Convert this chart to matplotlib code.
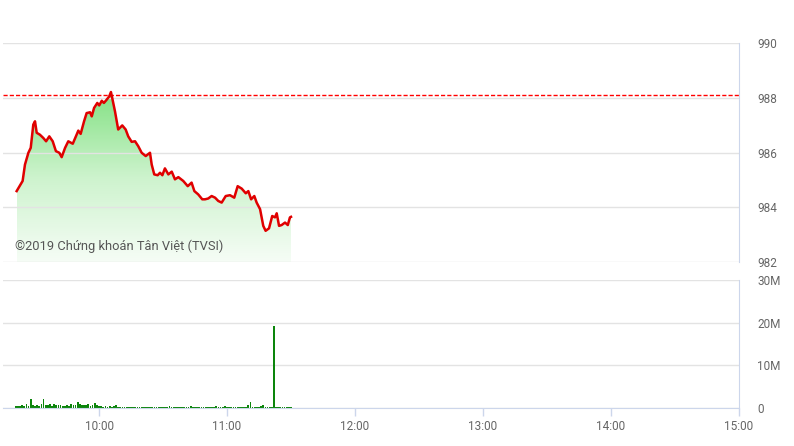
import numpy as np
import matplotlib
matplotlib.use("Agg")
import matplotlib.pyplot as plt
from matplotlib.colors import LinearSegmentedColormap
from matplotlib.ticker import FuncFormatter

plt.rcParams["font.family"] = ["Roboto", "DejaVu Sans"]

# minutes after 09:00 and index level
price_minutes = [21.4, 24.2, 25.3, 26.9, 28.0, 29.2, 30.0, 30.8, 32.3, 33.9,
                 35.2, 36.7, 38.3, 39.8, 41.4, 42.5, 44.1, 45.6, 47.7, 49.5,
                 50.3, 51.4, 53.0, 54.2, 55.8, 56.6, 57.7, 59.2, 60.1, 61.3,
                 62.3, 63.6, 64.8, 65.6, 66.2, 67.5, 69.0, 70.9, 72.5, 73.7,
                 75.3, 76.9, 78.4, 80.0, 81.9, 83.9, 84.7, 85.9, 87.5, 88.6,
                 89.7, 90.9, 92.5, 94.1, 95.6, 97.2, 99.5, 101.6, 103.4, 104.7,
                 106.5, 108.4, 109.7, 111.2, 112.8, 114.4, 115.9, 117.5, 119.4, 121.4,
                 123.4, 125.0, 126.9, 128.8, 130.0, 131.3, 132.8, 133.9, 135.5, 137.0,
                 138.1, 139.7, 141.2, 142.5, 143.3, 144.4, 145.6, 147.2, 148.5, 149.5,
                 150.0]
price = [984.59, 984.96, 985.56, 985.99, 986.17, 987.02, 987.14, 986.72, 986.65, 986.53,
         986.41, 986.59, 986.41, 986.05, 985.99, 985.83, 986.17, 986.41, 986.32, 986.65,
         986.80, 986.68, 987.14, 987.44, 987.47, 987.32, 987.63, 987.81, 987.72, 987.89,
         987.81, 987.93, 988.05, 988.21, 987.99, 987.50, 986.84, 986.99, 986.84, 986.59,
         986.39, 986.41, 986.23, 985.99, 985.87, 985.99, 985.56, 985.20, 985.17, 985.26,
         985.17, 985.42, 985.20, 985.30, 985.02, 985.10, 984.96, 984.77, 984.90, 984.59,
         984.47, 984.29, 984.29, 984.32, 984.41, 984.35, 984.23, 984.17, 984.41, 984.44,
         984.35, 984.77, 984.68, 984.51, 984.59, 984.29, 984.41, 984.17, 983.93, 983.32,
         983.14, 983.23, 983.68, 983.63, 983.78, 983.32, 983.35, 983.44, 983.35, 983.63,
         983.65]
ref_price = 988.1

# volume per minute from 09:21 to 11:30, millions
volume_start = 21
volume = [0.4, 0.5, 0.4, 0.6, 0.5, 0.9, 0.4, 2.0, 0.6, 0.5,
          0.7, 0.4, 1.0, 2.0, 0.6, 0.8, 0.9, 0.5, 1.0, 0.7,
          0.8, 0.6, 0.5, 0.4, 0.7, 0.5, 0.9, 0.6, 0.8, 1.5,
          0.9, 0.7, 0.6, 0.8, 1.0, 0.5, 0.7, 1.2, 0.6, 0.4,
          0.5, 0.3, 0.4, 0.3, 0.5, 0.3, 0.4, 0.6, 0.3, 0.3,
          0.2, 0.3, 0.2, 0.3, 0.2, 0.2, 0.3, 0.2, 0.2, 0.2,
          0.2, 0.2, 0.2, 0.3, 0.2, 0.2, 0.2, 0.3, 0.2, 0.2,
          0.3, 0.2, 0.4, 0.2, 0.3, 0.2, 0.2, 0.3, 0.2, 0.2,
          0.2, 0.3, 0.5, 0.2, 0.2, 0.3, 0.2, 0.2, 0.2, 0.3,
          0.2, 0.2, 0.3, 0.2, 0.4, 0.2, 0.2, 0.3, 0.5, 0.2,
          0.3, 0.2, 0.2, 0.3, 0.2, 0.2, 0.2, 0.3, 0.2, 0.6,
          1.4, 0.3, 0.2, 0.2, 0.3, 0.4, 0.8, 0.2, 0.3, 0.2,
          0.2, 19.2, 0.3, 0.2, 0.2, 0.3, 0.2, 0.2, 0.2, 0.2]

hour_ticks = [60, 120, 180, 240, 300, 360]
hour_labels = ["10:00", "11:00", "12:00", "13:00", "14:00", "15:00"]
price_ticks = [982, 984, 986, 988, 990]
vol_ticks = [0, 10, 20, 30]

GRID = "#e3e3e3"
AXIS = "#ccd6eb"
LABEL = "#666666"

W, H = 794, 446
fig = plt.figure(figsize=(W / 100, H / 100), dpi=100)
left, width = 3 / W, 736 / W
ax = fig.add_axes([left, 1 - 262 / H, width, 219 / H])
axv = fig.add_axes([left, 1 - 408 / H, width, 128 / H], sharex=ax)

# --- price panel
x = np.array(price_minutes)
y = np.array(price)
poly = ax.fill_between(x, y, 982, color="none", lw=0)
cmap = LinearSegmentedColormap.from_list("g", ["#f6fdf6", "#cdf3cd", "#84e184"])
grad = np.linspace(0, 1, 256).reshape(-1, 1)
img = ax.imshow(grad, extent=[x[0], x[-1], 982, y.max()], origin="lower",
                cmap=cmap, aspect="auto", zorder=1)
img.set_clip_path(poly.get_paths()[0], transform=ax.transData)
ax.plot(x, y, color="#e00000", lw=1.8, zorder=3, solid_joinstyle="round")
ax.axhline(ref_price, color="#ff0000", lw=1.0, ls=(0, (3, 1.5)), zorder=2)

ax.set_xlim(15, 360)
ax.set_ylim(982, 990)
ax.set_yticks(price_ticks)
ax.yaxis.tick_right()
ax.grid(axis="y", color=GRID, lw=1)
ax.set_axisbelow("line")
ax.tick_params(axis="y", length=0, pad=13, labelsize=8.5, labelcolor=LABEL)
ax.tick_params(axis="x", length=0, labelbottom=False)
for s in ["left", "top", "bottom"]:
    ax.spines[s].set_visible(False)
ax.spines["right"].set_color(AXIS)
ax.text(12 / 736, 0.04, "©2019 Chứng khoán Tân Việt (TVSI)", transform=ax.transAxes,
        fontsize=9.3, color="#555555", ha="left", va="bottom", zorder=4)

# --- volume panel
vx = np.arange(volume_start, volume_start + len(volume))
axv.bar(vx, volume, width=0.8, color="#0c850c", lw=0, zorder=2)
axv.set_ylim(0, 30)
axv.set_yticks(vol_ticks)
axv.yaxis.tick_right()
axv.yaxis.set_major_formatter(FuncFormatter(lambda v, p: "0" if v == 0 else f"{v:.0f}M"))
axv.grid(axis="y", color=GRID, lw=1)
axv.set_axisbelow(True)
axv.tick_params(axis="y", length=0, pad=13, labelsize=8.5, labelcolor=LABEL)
axv.set_xticks(hour_ticks)
axv.set_xticklabels(hour_labels)
axv.tick_params(axis="x", length=6, width=1, color=AXIS, pad=3, labelsize=8.5,
                labelcolor=LABEL)
for s in ["left", "top"]:
    axv.spines[s].set_visible(False)
axv.spines["right"].set_color(AXIS)
axv.spines["bottom"].set_color(AXIS)

fig.savefig("out.png", dpi=100)
